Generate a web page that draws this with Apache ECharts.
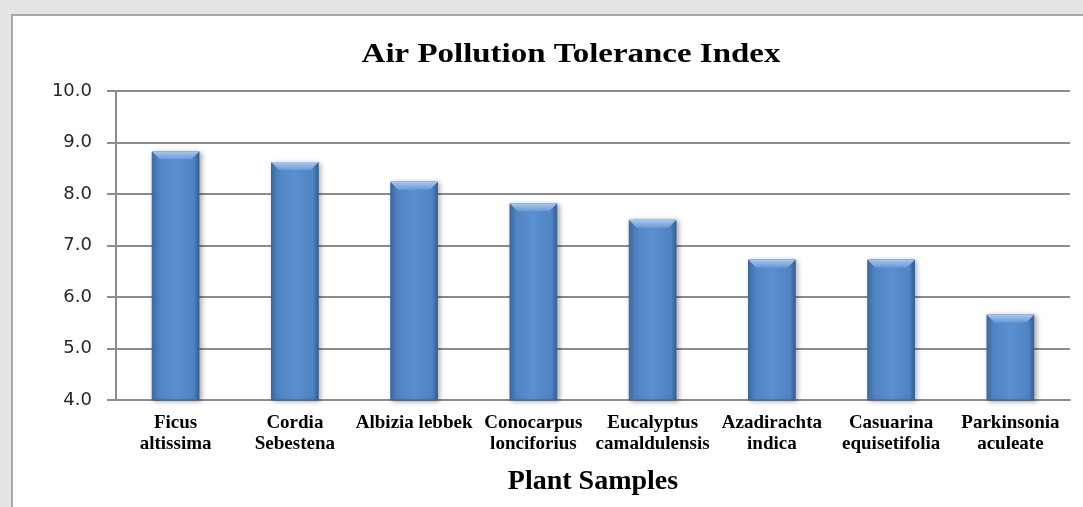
<!DOCTYPE html>
<html>
<head>
<meta charset="utf-8">
<script src="https://cdn.jsdelivr.net/npm/echarts@6/dist/echarts.min.js"></script>
<style>
html,body{margin:0;padding:0;background:#e4e4e4;}
#chart{width:1083px;height:507px;}
</style>
</head>
<body>
<div id="chart"></div>
<script>
const categories = ['Ficus\naltissima','Cordia\nSebestena','Albizia lebbek','Conocarpus\nlonciforius','Eucalyptus\ncamaldulensis','Azadirachta\nindica','Casuarina\nequisetifolia','Parkinsonia\naculeate'];
const aptiValues = [8.83, 8.62, 8.24, 7.82, 7.50, 6.73, 6.73, 5.66];
const yTicks = [4, 5, 6, 7, 8, 9, 10];
const titleText = 'Air Pollution Tolerance Index';
const xAxisName = 'Plant Samples';

const chart = echarts.init(document.getElementById('chart'), null, {renderer:'canvas'});
const barColor = {
  type:'linear', x:0, y:0, x2:1, y2:0,
  colorStops:[
    {offset:0, color:'#3f6ea8'},
    {offset:0.12, color:'#4f83c4'},
    {offset:0.5, color:'#5a8fd0'},
    {offset:0.88, color:'#4f83c4'},
    {offset:1, color:'#345f94'}
  ]
};
chart.setOption({
  backgroundColor:'#e4e4e4',
  animation:false,
  graphic:[{
    type:'rect', left:11, top:14, z:-10,
    shape:{x:0, y:0, width:1090, height:510},
    style:{fill:'#ffffff', stroke:'#a8a8a8', lineWidth:2}
  },{
    type:'text', x:571, y:55, scaleX:1.22, z:10,
    style:{text:titleText, align:'center', verticalAlign:'middle',
      font:'bold 27px "Liberation Serif"', fill:'#000'}
  }],
  grid:{left:116, right:13, top:91, bottom:107, containLabel:false},
  xAxis:{
    type:'category', data:categories,
    name:xAxisName, nameLocation:'middle', nameGap:68,
    nameTextStyle:{fontFamily:'Liberation Serif', fontWeight:'bold', fontSize:28, color:'#000', verticalAlign:'top'},
    axisLine:{lineStyle:{color:'#8c8c8c', width:2}},
    axisTick:{show:false},
    axisLabel:{interval:0, margin:13, fontFamily:'Liberation Serif', fontWeight:'bold', fontSize:19, lineHeight:21, color:'#000'}
  },
  yAxis:{
    type:'value', min:yTicks[0], max:yTicks[yTicks.length-1], interval:1,
    axisLine:{show:true, lineStyle:{color:'#8c8c8c', width:2}},
    axisTick:{show:true, length:9, lineStyle:{color:'#8c8c8c', width:2}},
    axisLabel:{margin:24, fontFamily:'DejaVu Sans', fontSize:18, color:'#262626',
      formatter:v=>v.toFixed(1)},
    splitLine:{lineStyle:{color:'#8c8c8c', width:2}}
  },
  series:[{
    type:'bar', data:aptiValues, barWidth:'40%',
    itemStyle:{color:barColor, borderColor:'#3a6699', borderWidth:1,
      shadowColor:'rgba(0,0,0,0.35)', shadowBlur:5, shadowOffsetX:2, shadowOffsetY:1}
  },{
    type:'custom', data:aptiValues, z:5,
    renderItem:function(params, api){
      const top = api.coord([api.value(0), api.value(1)]);
      const size = api.size([1, 0]);
      const w = size[0]*0.4;
      const x0 = top[0]-w/2, x1 = top[0]+w/2, y0 = top[1], b = 8;
      return {
        type:'polygon',
        shape:{points:[[x0,y0],[x1,y0],[x1-b,y0+b],[x0+b,y0+b]]},
        style:{fill:{type:'linear',x:0,y:0,x2:0,y2:1,colorStops:[{offset:0,color:'#a9c8ee'},{offset:1,color:'#6b9ad6'}]}}
      };
    },
    encode:{x:0, y:1}
  }]
});
</script>
</body>
</html>
